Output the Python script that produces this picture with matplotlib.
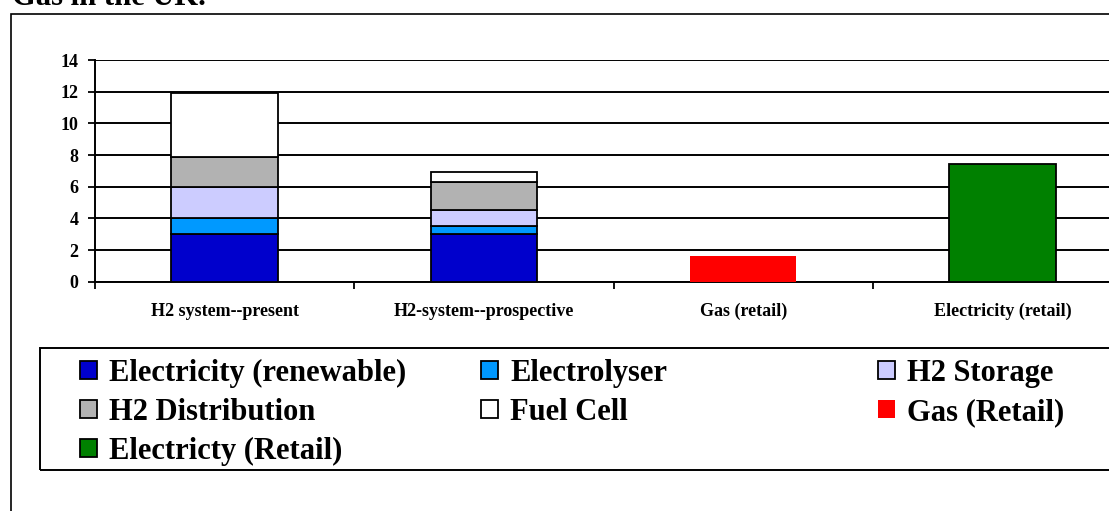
import matplotlib
matplotlib.use("Agg")
import matplotlib.pyplot as plt
from matplotlib.patches import Rectangle
import numpy as np

categories = ["H2 system--present", "H2-system--prospective", "Gas (retail)", "Electricity (retail)"]
series_names = ["Electricity (renewable)", "Electrolyser", "H2 Storage", "H2 Distribution",
                "Fuel Cell", "Gas (Retail)", "Electricty (Retail)"]
elec_renewable = [3.0, 3.0, 0, 0]
electrolyser = [1.0, 0.5, 0, 0]
h2_storage = [2.0, 1.0, 0, 0]
h2_distribution = [1.85, 1.8, 0, 0]
fuel_cell = [4.05, 0.65, 0, 0]
gas_retail = [0, 0, 1.65, 0]
elec_retail = [0, 0, 0, 7.45]
yticks = [0, 2, 4, 6, 8, 10, 12, 14]

series = [elec_renewable, electrolyser, h2_storage, h2_distribution, fuel_cell, gas_retail, elec_retail]
colors = ["#0000CC", "#0099FF", "#CCCCFF", "#B2B2B2", "#FFFFFF", "#FF0000", "#008000"]
edges = ["black", "black", "black", "black", "black", "none", "black"]

W, H = 1109, 511
serif = "Liberation Serif"
fig = plt.figure(figsize=(W / 100, H / 100), dpi=100)

# outer border and title (cropped at the top in the reference)
fig.add_artist(Rectangle((11 / W, -0.1), 1.2, (H - 14) / H + 0.1, transform=fig.transFigure,
                         fill=False, edgecolor="black", linewidth=1.2))
fig.text(12 / W, (H - 5) / H, "Gas in the UK.", fontfamily=serif, fontweight="bold",
         fontsize=22, ha="left", va="baseline")

ax = fig.add_axes([95 / W, (H - 281.7) / H, 1037.2 / W, (281.7 - 60) / H])
x = np.arange(len(categories))
bottom = np.zeros(len(categories))
handles = []
for name, vals, c, ec in zip(series_names, series, colors, edges):
    v = np.array(vals, dtype=float)
    m = v > 0
    b = ax.bar(x[m], v[m], bottom=bottom[m], width=0.41, color=c, edgecolor=ec,
               linewidth=1.3, label=name, zorder=3)
    handles.append(b)
    bottom = bottom + v

ax.set_xlim(-0.5, 3.5)
ax.set_ylim(0, 14)
ax.set_yticks(yticks)
ax.set_yticklabels([str(t) for t in yticks])
ax.yaxis.grid(True, color="black", linewidth=1.4, zorder=0)
ax.set_axisbelow(True)
for s in ["top", "right"]:
    ax.spines[s].set_visible(False)
for s in ["left", "bottom"]:
    ax.spines[s].set_linewidth(1.4)
    ax.spines[s].set_color("black")
ax.tick_params(axis="y", direction="out", length=5, width=1.3, pad=7)
ax.set_xticks([-0.5, 0.5, 1.5, 2.5, 3.5])
ax.set_xticklabels([""] * 5)
ax.tick_params(axis="x", which="major", direction="out", length=5, width=1.3)
ax.set_xticks(x, minor=True)
ax.set_xticklabels(categories, minor=True)
ax.tick_params(axis="x", which="minor", length=0, pad=15)
for lab in ax.get_yticklabels():
    lab.set_fontfamily(serif); lab.set_fontweight("bold"); lab.set_fontsize(13)
for lab in ax.get_xticklabels(minor=True):
    lab.set_fontfamily(serif); lab.set_fontweight("bold"); lab.set_fontsize(13)

# legend box
fig.add_artist(Rectangle((40 / W, (H - 470) / H), 1.2, (470 - 347.7) / H, transform=fig.transFigure,
                         fill=False, edgecolor="black", linewidth=1.4))
cols = [[0, 3, 6], [1, 4], [2, 5]]
col_x = [80, 481, 878]
for idxs, cx in zip(cols, col_x):
    fig.legend([handles[i] for i in idxs], [series_names[i] for i in idxs],
               loc="upper left", bbox_to_anchor=(cx / W, (H - 359) / H),
               frameon=False, borderpad=0, borderaxespad=0,
               handlelength=0.55, handleheight=0.55, handletextpad=0.4,
               labelspacing=0.32,
               prop={"family": serif, "weight": "bold", "size": 22})

fig.savefig("out.png", dpi=100)
